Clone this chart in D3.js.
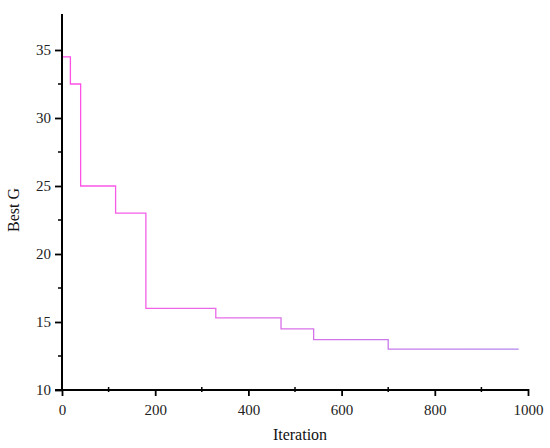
<!DOCTYPE html>
<html><head><meta charset="utf-8">
<script src="https://cdn.jsdelivr.net/npm/d3@7"></script>
<style>body{margin:0;background:#fff}svg{display:block}text{font-family:"Liberation Serif","Times New Roman",serif}</style>
</head><body><svg id="c" width="550" height="448"></svg>
<script>
// Step data: iteration where each best value starts, and the value
const stepIter = [0, 18, 40, 115, 180, 330, 470, 540, 700];
const stepVal  = [34.5, 32.5, 25, 23, 16, 15.3, 14.5, 13.7, 13];
const lastIter = 980;
const xTicks = [0, 200, 400, 600, 800, 1000];
const yTicks = [10, 15, 20, 25, 30, 35];

const FONT = "'Liberation Serif','Times New Roman',serif";
const svg = d3.select("#c");
const x = d3.scaleLinear().domain([0, 1000]).range([62, 528]);
const y = d3.scaleLinear().domain([10, 35]).range([390, 50]);
const yTop = y.invert(14);

const pts = stepIter.map((it, i) => [it, stepVal[i]]);
pts.push([lastIter, stepVal[stepVal.length - 1]]);

const defs = svg.append("defs");
const grad = defs.append("linearGradient").attr("id", "g")
  .attr("gradientUnits", "userSpaceOnUse")
  .attr("x1", x(0)).attr("x2", x(lastIter)).attr("y1", 0).attr("y2", 0);
grad.append("stop").attr("offset", "0%").attr("stop-color", "#ff4fe6");
grad.append("stop").attr("offset", "25%").attr("stop-color", "#ee66e8");
grad.append("stop").attr("offset", "100%").attr("stop-color", "#b084ec");

const line = d3.line().x(d => x(d[0])).y(d => y(d[1])).curve(d3.curveStepAfter);
svg.append("path").datum(pts).attr("d", line)
  .attr("fill", "none").attr("stroke", "url(#g)").attr("stroke-width", 1.3);

// Y axis
const yAxisG = svg.append("g").attr("transform", `translate(${x(0)},0)`);
const yMinor = d3.range(12.5, 37.5, 5);
yAxisG.selectAll("line.minor").data(yMinor).join("line")
  .attr("x1", -4).attr("x2", 0).attr("y1", d => y(d)).attr("y2", d => y(d))
  .attr("stroke", "#000").attr("stroke-width", 1.5);
yAxisG.call(d3.axisLeft(y).tickValues(yTicks).tickSize(7).tickPadding(4).tickFormat(d3.format("d")))
  .call(g => g.select(".domain").remove());
yAxisG.attr("font-family", FONT).attr("font-size", 15);
yAxisG.append("line").attr("x1", 0).attr("x2", 0).attr("y1", y(10)).attr("y2", y(yTop))
  .attr("stroke", "#000").attr("stroke-width", 2);
yAxisG.selectAll(".tick line").attr("stroke-width", 1.8);
yAxisG.selectAll(".tick text").attr("fill", "#222");

// X axis
const xAxisG = svg.append("g").attr("transform", `translate(0,${y(10)})`);
const xMinor = d3.range(100, 1000, 200);
xAxisG.selectAll("line.minor").data(xMinor).join("line")
  .attr("x1", d => x(d)).attr("x2", d => x(d)).attr("y1", -3).attr("y2", 2)
  .attr("stroke", "#000").attr("stroke-width", 1.5);
xAxisG.call(d3.axisBottom(x).tickValues(xTicks).tickSize(6).tickPadding(8).tickFormat(d3.format("d")))
  .call(g => g.select(".domain").remove());
xAxisG.attr("font-family", FONT).attr("font-size", 15);
xAxisG.append("line").attr("x1", x(0) - 7).attr("x2", x(1000)).attr("y1", 0).attr("y2", 0)
  .attr("stroke", "#000").attr("stroke-width", 2);
xAxisG.selectAll(".tick line").attr("stroke-width", 1.8).attr("y1", -1);
xAxisG.selectAll(".tick text").attr("fill", "#222");

svg.append("text").attr("x", 300).attr("y", 440).attr("text-anchor", "middle")
  .attr("font-family", FONT).attr("font-size", 16).attr("fill", "#111").text("Iteration");
svg.append("text").attr("transform", "translate(19,210) rotate(-90)").attr("text-anchor", "middle")
  .attr("font-family", FONT).attr("font-size", 16).attr("fill", "#111").text("Best G");
</script></body></html>
